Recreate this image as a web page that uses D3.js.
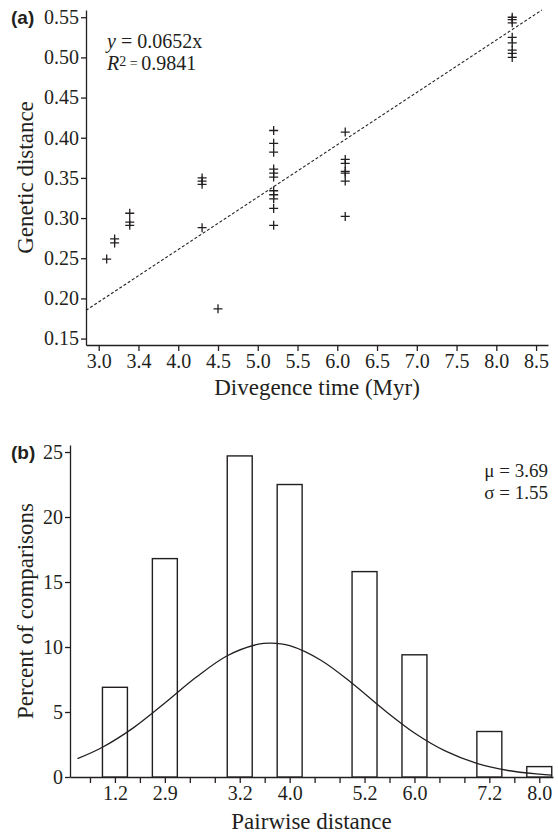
<!DOCTYPE html>
<html>
<head>
<meta charset="utf-8">
<title>Divergence time and pairwise distance</title>
<script src="https://cdn.jsdelivr.net/npm/d3@7/dist/d3.min.js"></script>
<style>
  body { margin: 0; background: #fff; }
  text { font-family: "Liberation Serif", "Times New Roman", serif; fill: #231f20; }
  .tag { font-family: "Liberation Sans", Arial, sans-serif; font-weight: bold; font-size: 19px; }
  .axis text { font-family: "Liberation Serif", "Times New Roman", serif; font-size: 20px; fill: #231f20; }
  .axis path, .axis line { stroke: #231f20; stroke-width: 1.3; }
  .title { font-size: 23px; }
</style>
</head>
<body>
<svg id="chart" width="558" height="834"></svg>
<script>
// panel (a) data: divergence time (Myr) vs genetic distance
var divTime = [3.1, 3.2, 3.2, 3.39, 3.39, 3.39,
  4.3, 4.3, 4.3, 4.3, 4.5,
  5.2, 5.2, 5.2, 5.2, 5.2, 5.2, 5.2, 5.2, 5.2, 5.2, 5.2,
  6.1, 6.1, 6.1, 6.1, 6.1, 6.1, 6.1,
  8.2, 8.2, 8.2, 8.2, 8.2, 8.2, 8.2, 8.2];
var genDist = [0.249, 0.274, 0.269, 0.306, 0.295, 0.291,
  0.350, 0.346, 0.342, 0.288, 0.187,
  0.409, 0.393, 0.382, 0.361, 0.356, 0.351, 0.334, 0.329, 0.324, 0.312, 0.291,
  0.407, 0.373, 0.368, 0.358, 0.356, 0.346, 0.302,
  0.550, 0.547, 0.543, 0.525, 0.518, 0.509, 0.505, 0.500];
var slope = 0.0652;      // y = 0.0652x
var r2 = '0.9841';
var timeTicks = [3.0, 3.5, 4.0, 4.5, 5.0, 5.5, 6.0, 6.5, 7.0, 7.5, 8.0, 8.5];
var timeTickLabels = ['3.0', '3.4', '4.0', '4.5', '5.0', '5.5', '6.0', '6.5', '7.0', '7.5', '8.0', '8.5'];
var distTicks = [0.15, 0.20, 0.25, 0.30, 0.35, 0.40, 0.45, 0.50, 0.55];

// panel (b) data: histogram of pairwise distances
var binCenters = [1.2, 2.0, 3.2, 4.0, 5.2, 6.0, 7.2, 8.0];
var binLabels = ['1.2', '2.9', '3.2', '4.0', '5.2', '6.0', '7.2', '8.0'];
var percent = [6.9, 16.8, 24.7, 22.5, 15.8, 9.4, 3.5, 0.8];
var binWidth = 0.4;
var pctTicks = [0, 5, 10, 15, 20, 25];
var mu = '3.69', sigma = '1.55';
// fitted normal curve
var curveX = [0.6, 1.0, 1.5, 2.0, 2.5, 3.0, 3.5, 3.7, 4.0, 4.5, 5.0, 5.5, 6.0, 6.5, 7.0, 7.5, 8.0, 8.2];
var curveY = [1.41, 2.29, 3.80, 5.69, 7.67, 9.33, 10.22, 10.30, 10.10, 8.98, 7.21, 5.21, 3.39, 1.99, 1.05, 0.50, 0.22, 0.15];

var svg = d3.select('#chart');
var serif = '"Liberation Serif", "Times New Roman", serif';

// ---------- panel (a) ----------
var xA = d3.scaleLinear().domain([2.84, 8.65]).range([86, 548]);
var yA = d3.scaleLinear().domain([0.142, 0.559]).range([345, 10]);

var gA = svg.append('g');

gA.append('g')
  .attr('class', 'axis')
  .attr('transform', 'translate(0,' + yA.range()[0] + ')')
  .call(d3.axisBottom(xA).tickValues(timeTicks).tickSize(6).tickSizeOuter(0).tickPadding(3)
    .tickFormat((d, i) => timeTickLabels[i]))
  .attr('font-family', serif).attr('font-size', 20);

gA.append('g')
  .attr('class', 'axis')
  .attr('transform', 'translate(' + xA.range()[0] + ',0)')
  .call(d3.axisLeft(yA).tickValues(distTicks).tickSize(5).tickSizeOuter(0).tickPadding(2)
    .tickFormat(d3.format('.2f')))
  .attr('font-family', serif).attr('font-size', 20);

// regression line through the origin, clipped at the top of the axis
var x0 = xA.domain()[0],
  x1 = Math.min(xA.domain()[1], yA.domain()[1] / slope);
gA.append('line')
  .attr('x1', xA(x0)).attr('y1', yA(slope * x0))
  .attr('x2', xA(x1)).attr('y2', yA(slope * x1))
  .attr('stroke', '#231f20')
  .attr('stroke-width', 1.1)
  .attr('stroke-dasharray', '3,2');

// plus markers
gA.selectAll('.pt')
  .data(divTime)
  .enter()
  .append('path')
  .attr('class', 'pt')
  .attr('d', (d, i) => {
    var cx = xA(d), cy = yA(genDist[i]);
    return 'M' + (cx - 4.5) + ',' + cy + 'H' + (cx + 4.5) + 'M' + cx + ',' + (cy - 4.5) + 'V' + (cy + 4.5);
  })
  .attr('stroke', '#231f20')
  .attr('stroke-width', 1.3)
  .attr('fill', 'none');

var eq = gA.append('text').attr('x', 107).attr('y', 48).style('font-size', '20px');
eq.append('tspan').style('font-style', 'italic').text('y');
eq.append('tspan').text(' = ' + slope + 'x');

var rt = gA.append('text').attr('x', 107).attr('y', 70).style('font-size', '20px');
rt.append('tspan').style('font-style', 'italic').text('R');
rt.append('tspan').attr('dy', -4).style('font-size', '14px').text('2');
rt.append('tspan').attr('dy', 2).style('font-size', '14px').text(' = ');
rt.append('tspan').attr('dy', 2).text(r2);

gA.append('text').attr('class', 'tag').attr('x', 11).attr('y', 24).text('(a)');

gA.append('text')
  .attr('class', 'title')
  .attr('text-anchor', 'middle')
  .attr('x', (xA.range()[0] + xA.range()[1]) / 2)
  .attr('y', 395)
  .text('Divegence time (Myr)');

gA.append('text')
  .attr('class', 'title')
  .attr('text-anchor', 'middle')
  .attr('transform', 'translate(33,' + (yA.range()[0] + yA.range()[1]) / 2 + ') rotate(-90)')
  .text('Genetic distance');

// ---------- panel (b) ----------
var xB = d3.scaleLinear().domain([0.48, 8.22]).range([70, 553]);
var yB = d3.scaleLinear().domain([0, 25.54]).range([777, 445]);

var gB = svg.append('g');

var minorTicks = d3.range(0, 19).map(k => +(0.8 + 0.4 * k).toFixed(1));

gB.append('g')
  .attr('class', 'axis')
  .attr('transform', 'translate(0,' + yB(0) + ')')
  .call(d3.axisBottom(xB).tickValues(minorTicks).tickSize(6).tickSizeOuter(0).tickPadding(3)
    .tickFormat(d => {
      var i = binCenters.indexOf(d);
      return i < 0 ? '' : binLabels[i];
    }))
  .attr('font-family', serif).attr('font-size', 20);

gB.append('g')
  .attr('class', 'axis')
  .attr('transform', 'translate(' + xB.range()[0] + ',0)')
  .call(d3.axisLeft(yB).tickValues(pctTicks).tickSize(5).tickSizeOuter(0).tickPadding(2))
  .attr('font-family', serif).attr('font-size', 20);

gB.selectAll('.bar')
  .data(percent)
  .enter()
  .append('rect')
  .attr('class', 'bar')
  .attr('x', (d, i) => xB(binCenters[i] - binWidth / 2))
  .attr('width', (d, i) => xB(binCenters[i] + binWidth / 2) - xB(binCenters[i] - binWidth / 2))
  .attr('y', d => yB(d))
  .attr('height', d => yB(0) - yB(d))
  .attr('fill', '#fff')
  .attr('stroke', '#231f20')
  .attr('stroke-width', 1.4);

var line = d3.line()
  .x((d, i) => xB(d))
  .y((d, i) => yB(curveY[i]))
  .curve(d3.curveCatmullRom);

gB.append('path')
  .attr('d', line(curveX))
  .attr('fill', 'none')
  .attr('stroke', '#231f20')
  .attr('stroke-width', 1.3);

gB.append('text').attr('text-anchor', 'end').attr('x', 548).attr('y', 477)
  .style('font-size', '19px').text('\u03bc = ' + mu);
gB.append('text').attr('text-anchor', 'end').attr('x', 548).attr('y', 499)
  .style('font-size', '19px').text('\u03c3 = ' + sigma);

gB.append('text').attr('class', 'tag').attr('x', 11).attr('y', 459).text('(b)');

gB.append('text')
  .attr('class', 'title')
  .attr('text-anchor', 'middle')
  .attr('x', (xB.range()[0] + xB.range()[1]) / 2)
  .attr('y', 829)
  .text('Pairwise distance');

gB.append('text')
  .attr('class', 'title')
  .attr('text-anchor', 'middle')
  .attr('transform', 'translate(33,' + (yB.range()[0] + yB.range()[1]) / 2 + ') rotate(-90)')
  .text('Percent of comparisons');
</script>
</body>
</html>
